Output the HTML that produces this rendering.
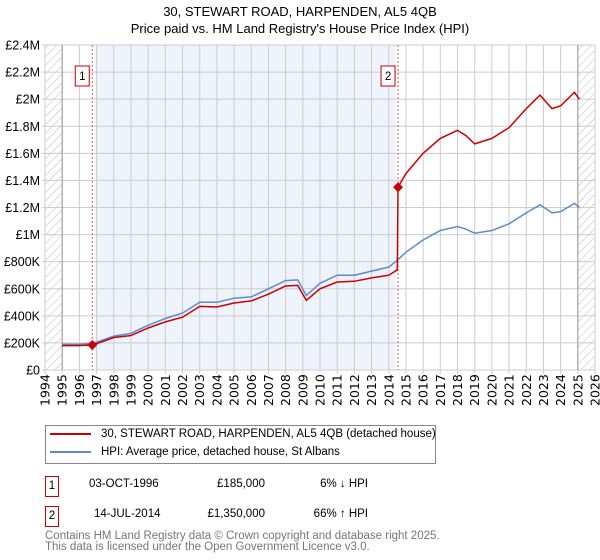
<!DOCTYPE html>
<html><head><meta charset="utf-8"><style>
body{margin:0;background:#fff;font-family:"Liberation Sans","DejaVu Sans",sans-serif;}
#wrap{position:relative;width:600px;height:560px;overflow:hidden}
.t{position:absolute;font-size:12.5px;color:#000}
</style></head><body><div id="wrap">
<div class="t" style="left:0;width:600px;text-align:center;top:3px;font-size:13px;line-height:17px;">30, STEWART ROAD, HARPENDEN, AL5 4QB<br>Price paid vs. HM Land Registry's House Price Index (HPI)</div>
<svg id="chart" width="600" height="412" style="position:absolute;left:0;top:0"></svg>
<div style="position:absolute;left:45px;top:425px;width:389px;height:37px;border:1px solid #888;">
 <div style="position:absolute;left:4px;top:2px;font-size:11.5px;white-space:nowrap"><span style="display:inline-block;width:41px;height:2px;background:#cc0000;vertical-align:middle;margin-right:10px"></span>30, STEWART ROAD, HARPENDEN, AL5 4QB (detached house)</div>
 <div style="position:absolute;left:4px;top:20px;font-size:11.5px;white-space:nowrap"><span style="display:inline-block;width:41px;height:2px;background:#5b8bd0;vertical-align:middle;margin-right:10px"></span>HPI: Average price, detached house, St Albans</div>
</div>
<div style="position:absolute;left:45px;top:476px;width:12px;height:19px;border:1px solid #cc0000;font-size:11.5px;text-align:center;line-height:19px">1</div>
<div class="t" style="left:89px;top:478px;font-size:11.5px">03-OCT-1996</div>
<div class="t" style="left:190px;width:75px;text-align:right;top:478px;font-size:11.5px">£185,000</div>
<div class="t" style="left:290px;width:78px;text-align:right;top:478px;font-size:11.5px">6% ↓ HPI</div>
<div style="position:absolute;left:45px;top:506px;width:12px;height:19px;border:1px solid #cc0000;font-size:11.5px;text-align:center;line-height:19px">2</div>
<div class="t" style="left:94px;top:508px;font-size:11.5px">14-JUL-2014</div>
<div class="t" style="left:190px;width:75px;text-align:right;top:508px;font-size:11.5px">£1,350,000</div>
<div class="t" style="left:290px;width:78px;text-align:right;top:508px;font-size:11.5px">66% ↑ HPI</div>
<div class="t" style="left:45px;top:531px;font-size:11.5px;line-height:11px;color:#777">Contains HM Land Registry data © Crown copyright and database right 2025.<br>This data is licensed under the Open Government Licence v3.0.</div>
</div>
<script>
const hpiYears=[1995,1996,1996.75,1997,1998,1999,2000,2001,2002,2003,2004,2005,2006,2007,2008,2008.7,2009.2,2010,2011,2012,2013,2014,2014.5,2015,2016,2017,2018,2018.5,2019,2020,2021,2022,2022.8,2023.5,2024,2024.8,2025.1];
const hpiValues=[190,190,197,205,250,270,330,380,420,500,500,530,540,600,660,665,550,640,700,700,730,760,810,870,960,1030,1060,1040,1010,1030,1080,1160,1220,1160,1170,1230,1200];
const priceYears=[1995,1996,1996.75,1997,1998,1999,2000,2001,2002,2003,2004,2005,2006,2007,2008,2008.7,2009.2,2010,2011,2012,2013,2014,2014.5,2014.54,2015,2016,2017,2018,2018.5,2019,2020,2021,2022,2022.8,2023.5,2024,2024.8,2025.1];
const priceValues=[180,180,185,195,240,255,310,355,390,470,465,495,510,560,620,625,515,600,650,655,680,700,740,1350,1450,1600,1710,1770,1730,1670,1710,1790,1930,2030,1930,1950,2050,2000];
const saleYears=[1996.75,2014.54];
const saleValues=[185,1350];
const saleLabels=["1","2"];
const yTicks=[0,200,400,600,800,1000,1200,1400,1600,1800,2000,2200,2400];
const yTickLabels=["£0","£200K","£400K","£600K","£800K","£1M","£1.2M","£1.4M","£1.6M","£1.8M","£2M","£2.2M","£2.4M"];
const xTicks=[1994,1995,1996,1997,1998,1999,2000,2001,2002,2003,2004,2005,2006,2007,2008,2009,2010,2011,2012,2013,2014,2015,2016,2017,2018,2019,2020,2021,2022,2023,2024,2025,2026];

const X0=45,X1=595,Y0=370,Y1=45;
const x=y=>X0+(y-1994)/32*(X1-X0);
const yv=v=>Y0-v/2400*(Y0-Y1);
const svg=document.getElementById('chart');
const NS='http://www.w3.org/2000/svg';
function mk(tag,attrs){const e=document.createElementNS(NS,tag);for(const k in attrs)e.setAttribute(k,attrs[k]);svg.appendChild(e);return e;}
const defs=document.createElementNS(NS,'defs');
defs.innerHTML='<pattern id="hatch" width="6" height="6" patternUnits="userSpaceOnUse" patternTransform="rotate(45)"><line x1="0" y1="0" x2="0" y2="6" stroke="#bbb" stroke-width="1"/></pattern>';
svg.appendChild(defs);
let e;
e=mk('rect',{x:x(1996.75)+3,y:Y1,width:x(2014.4)-x(1996.75)-3,height:Y0-Y1,fill:'#eef3fc'});

e=mk('rect',{x:X0,y:Y1,width:x(1995)-X0,height:Y0-Y1,fill:'url(#hatch)'});

e=mk('rect',{x:x(2025.0),y:Y1,width:X1-x(2025.0),height:Y0-Y1,fill:'url(#hatch)'});

xTicks.forEach(t=>{
 e=mk('line',{x1:x(t),x2:x(t),y1:Y1,y2:Y0+4,stroke:'#ccc','stroke-width':1});
 
 e=mk('text',{x:0,y:0,transform:`translate(${x(t)+4.5},${Y0+36}) rotate(-90)`,'font-size':12.5,'font-family':'DejaVu Sans, Liberation Sans, sans-serif','text-anchor':'start'});
 e.textContent=t;
 
});
yTicks.forEach((t,i)=>{
 e=mk('line',{x1:X0-3,x2:X1,y1:yv(t),y2:yv(t),stroke:'#ccc','stroke-width':1});
 
 e=mk('text',{x:X0-5,y:yv(t)+4.5,'font-size':12.5,'text-anchor':'end','font-family':'Liberation Sans, DejaVu Sans, sans-serif'});
 e.textContent=yTickLabels[i];
 
});
e=mk('line',{x1:x(1995),x2:x(1995),y1:Y1,y2:Y0,stroke:'#999'});

e=mk('line',{x1:x(2025.0),x2:x(2025.0),y1:Y1,y2:Y0,stroke:'#999'});

saleYears.forEach((s,i)=>{
 e=mk('line',{x1:x(s),x2:x(s),y1:Y1,y2:Y0,stroke:'#e05050','stroke-dasharray':'2,2','stroke-width':1});
 
 e=mk('rect',{x:x(s)-10-7,y:66,width:14,height:20,fill:'#fff',stroke:'#cc0000'});
 
 e=mk('text',{x:x(s)-10,y:80,'font-size':11.5,'text-anchor':'middle','font-family':'Liberation Sans, DejaVu Sans, sans-serif'});
 e.textContent=saleLabels[i];
 
});
const pts=(ys,vs)=>ys.map((y,i)=>x(y).toFixed(1)+','+yv(vs[i]).toFixed(1)).join(' ');
e=mk('polyline',{points:pts(hpiYears,hpiValues),fill:'none',stroke:'#5b8bd0','stroke-width':1.5});

e=mk('polyline',{points:pts(priceYears,priceValues),fill:'none',stroke:'#cc0000','stroke-width':1.5});

saleYears.forEach((s,i)=>{
 const cx=x(s),cy=yv(saleValues[i]);
 e=mk('polygon',{points:`${cx},${cy-5} ${cx+5},${cy} ${cx},${cy+5} ${cx-5},${cy}`,fill:'#cc0000'});
 
});
</script></body></html>
